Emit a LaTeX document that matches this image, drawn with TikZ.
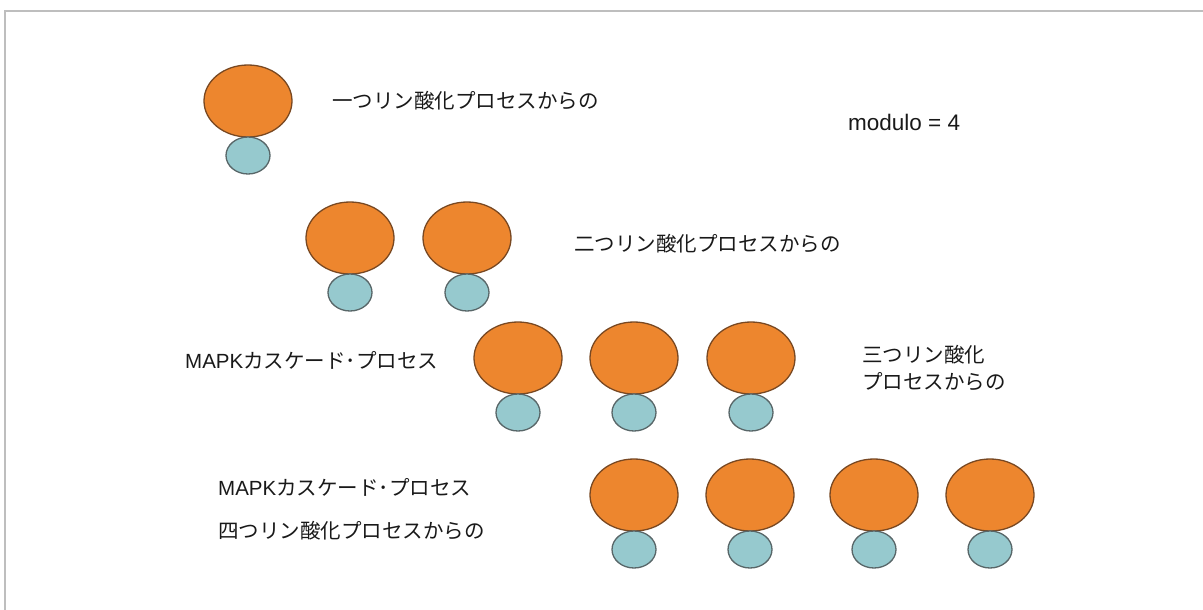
\documentclass[tikz,border=0pt]{standalone}
\usepackage{fontspec}
\setmainfont{Noto Sans CJK JP}
\newfontfamily\lat{Liberation Sans}
\usetikzlibrary{shapes.geometric}
\definecolor{orfill}{RGB}{237,134,46}
\definecolor{orline}{RGB}{120,72,34}
\definecolor{tlfill}{RGB}{150,201,206}
\definecolor{tlline}{RGB}{88,102,104}
\definecolor{bordercol}{RGB}{190,190,190}
\definecolor{txt}{RGB}{25,25,25}
\begin{document}
\begin{tikzpicture}[x=1pt,y=-1pt,
  big/.style={ellipse, draw=orline, fill=orfill, line width=1.3pt, minimum width=88pt, minimum height=72pt, inner sep=0pt, outer sep=0pt},
  small/.style={ellipse, draw=tlline, fill=tlfill, line width=1.3pt, minimum width=44pt, minimum height=37pt, inner sep=0pt, outer sep=0pt, anchor=north},
  lbl/.style={anchor=west, inner sep=0pt, text=txt, font=\fontsize{20.5}{27}\selectfont}]
\useasboundingbox (0,0) rectangle (1203,610);
\draw[bordercol, line width=2pt] (1203,11) -- (5,11) -- (5,610);
% row 1
\node[big] (o11) at (248,101) {};
\node[small] (t11) at (o11.south) {};
\node[lbl] (l1) at (332,101) {一つリン酸化プロセスからの};
\node[lbl, font=\fontsize{22.5}{27}\selectfont] (mod) at (848,122) {\lat modulo = 4};
% row 2
\node[big] (o21) at (350,238) {};
\node[small] (t21) at (o21.south) {};
\node[big] (o22) at (467,238) {};
\node[small] (t22) at (o22.south) {};
\node[lbl] (l2) at (574,244) {二つリン酸化プロセスからの};
% row 3
\node[big] (o31) at (518,358) {};
\node[small] (t31) at (o31.south) {};
\node[big] (o32) at (634,358) {};
\node[small] (t32) at (o32.south) {};
\node[big] (o33) at (751,358) {};
\node[small] (t33) at (o33.south) {};
\node[lbl] (l3a) at (185,360) {{\lat MAPK}カスケード･プロセス};
\node[lbl, align=left] (l3b) at (862,368) {三つリン酸化\\プロセスからの};
% row 4
\node[big] (o41) at (634,495) {};
\node[small] (t41) at (o41.south) {};
\node[big] (o42) at (750,495) {};
\node[small] (t42) at (o42.south) {};
\node[big] (o43) at (874,495) {};
\node[small] (t43) at (o43.south) {};
\node[big] (o44) at (990,495) {};
\node[small] (t44) at (o44.south) {};
\node[lbl] (l4a) at (218,487) {{\lat MAPK}カスケード･プロセス};
\node[lbl] (l4b) at (218,531) {四つリン酸化プロセスからの};
\end{tikzpicture}
\end{document}
